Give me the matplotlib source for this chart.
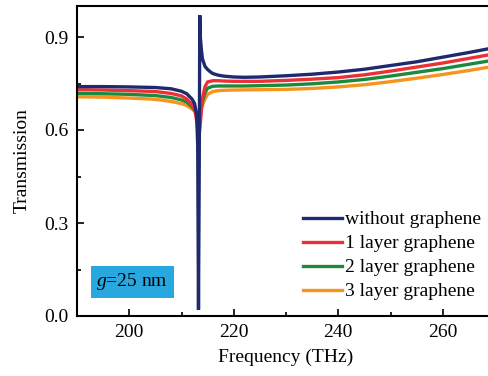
import numpy as np
import matplotlib.pyplot as plt
from matplotlib.ticker import MultipleLocator

plt.rcParams['font.family'] = ['Liberation Serif', 'DejaVu Serif']
plt.rcParams['mathtext.fontset'] = 'custom'
plt.rcParams['mathtext.it'] = 'Liberation Serif:italic'
plt.rcParams['mathtext.rm'] = 'Liberation Serif'

# ---- data ----
f_none = [190, 195, 200, 205, 208, 210, 211, 212, 212.5, 212.9, 213.1, 213.25,
          213.4, 213.5, 213.6, 213.8, 214.0, 214.5, 215, 215.5, 216, 217, 218,
          220, 222, 225, 230, 235, 240, 245, 250, 255, 260, 265, 270]
t_none = [0.740, 0.740, 0.739, 0.737, 0.733, 0.725, 0.717, 0.700, 0.685, 0.65, 0.55, 0.02,
          0.50, 0.97, 0.90, 0.86, 0.83, 0.805, 0.795, 0.788, 0.782, 0.777, 0.774,
          0.771, 0.770, 0.771, 0.775, 0.780, 0.787, 0.796, 0.808, 0.820, 0.835, 0.850, 0.866]

f_one = [190, 195, 200, 205, 208, 210, 211, 212, 212.6, 213.0, 213.3, 213.6, 214.0,
         214.5, 215, 216, 217, 218, 220, 222, 225, 230, 235, 240, 245, 250, 255,
         260, 265, 270]
t_one = [0.730, 0.729, 0.727, 0.724, 0.718, 0.710, 0.700, 0.682, 0.66, 0.62, 0.568, 0.62, 0.70,
         0.74, 0.755, 0.759, 0.759, 0.758, 0.757, 0.757, 0.757, 0.760, 0.764, 0.769, 0.778, 0.790, 0.803,
         0.816, 0.831, 0.846]

f_two = [190, 195, 200, 205, 208, 210, 211, 212, 212.6, 213.0, 213.3, 213.6, 214.0,
         214.5, 215, 216, 217, 218, 220, 222, 225, 230, 235, 240, 245, 250, 255,
         260, 265, 270]
t_two = [0.718, 0.717, 0.715, 0.711, 0.705, 0.697, 0.690, 0.675, 0.66, 0.645, 0.64, 0.655, 0.69,
         0.72, 0.735, 0.741, 0.742, 0.742, 0.742, 0.742, 0.743, 0.745, 0.749, 0.755, 0.763, 0.774, 0.786,
         0.798, 0.812, 0.826]

f_three = [190, 195, 200, 204, 206, 208, 210, 211, 212, 212.6, 213.0, 213.3, 213.6, 214.0,
           214.5, 215, 216, 217, 218, 220, 225, 230, 235, 240, 245, 250, 255,
           260, 265, 270]
t_three = [0.707, 0.706, 0.703, 0.700, 0.697, 0.692, 0.685, 0.679, 0.668, 0.66, 0.656, 0.655, 0.662, 0.68,
           0.70, 0.715, 0.724, 0.727, 0.728, 0.729, 0.730, 0.731, 0.734, 0.739, 0.746, 0.756, 0.767,
           0.779, 0.792, 0.806]

labels = ['without graphene', '1 layer graphene', '2 layer graphene', '3 layer graphene']
colors = ['#1f2a6e', '#ec3038', '#1b8a3c', '#f7941d']

fig = plt.figure(figsize=(4.88, 3.76), dpi=100)
ax = fig.add_axes([77 / 488, 60 / 376, 418 / 488, 310 / 376])

series = [(f_none, t_none), (f_one, t_one), (f_two, t_two), (f_three, t_three)]
# draw in reverse so "without graphene" sits on top
for (f, t), lab, c in reversed(list(zip(series, labels, colors))):
    ax.plot(f, t, color=c, linewidth=2.4, label=lab, solid_joinstyle='miter')

ax.set_xlim(190, 270)
ax.set_ylim(0, 1.0)
ax.xaxis.set_major_locator(MultipleLocator(20))
ax.xaxis.set_minor_locator(MultipleLocator(10))
ax.yaxis.set_minor_locator(MultipleLocator(0.15))
ax.set_yticks([0.0, 0.3, 0.6, 0.9])
ax.set_yticklabels(['0.0', '0.3', '0.6', '0.9'])
ax.tick_params(which='both', direction='in', labelsize=14, width=1.2)
ax.tick_params(which='major', length=5, pad=6)
ax.tick_params(which='minor', length=3)
for s in ax.spines.values():
    s.set_linewidth(1.5)

ax.set_xlabel('Frequency (THz)', fontsize=14, labelpad=5)
ax.set_ylabel('Transmission', fontsize=14, labelpad=10)

handles, labs = ax.get_legend_handles_labels()
ax.legend(handles[::-1], labs[::-1], loc='lower right', bbox_to_anchor=(1.003, 0.0),
          frameon=False, fontsize=14, handlelength=2.0, handletextpad=0.15,
          labelspacing=0.33, borderpad=0.3)

ax.text(200.6, 0.11, r'$g$=25 nm', fontsize=14, ha='center', va='center',
        bbox=dict(boxstyle='square,pad=0.28', facecolor='#29a8e0', edgecolor='none'))

plt.savefig('out.png', dpi=100)
